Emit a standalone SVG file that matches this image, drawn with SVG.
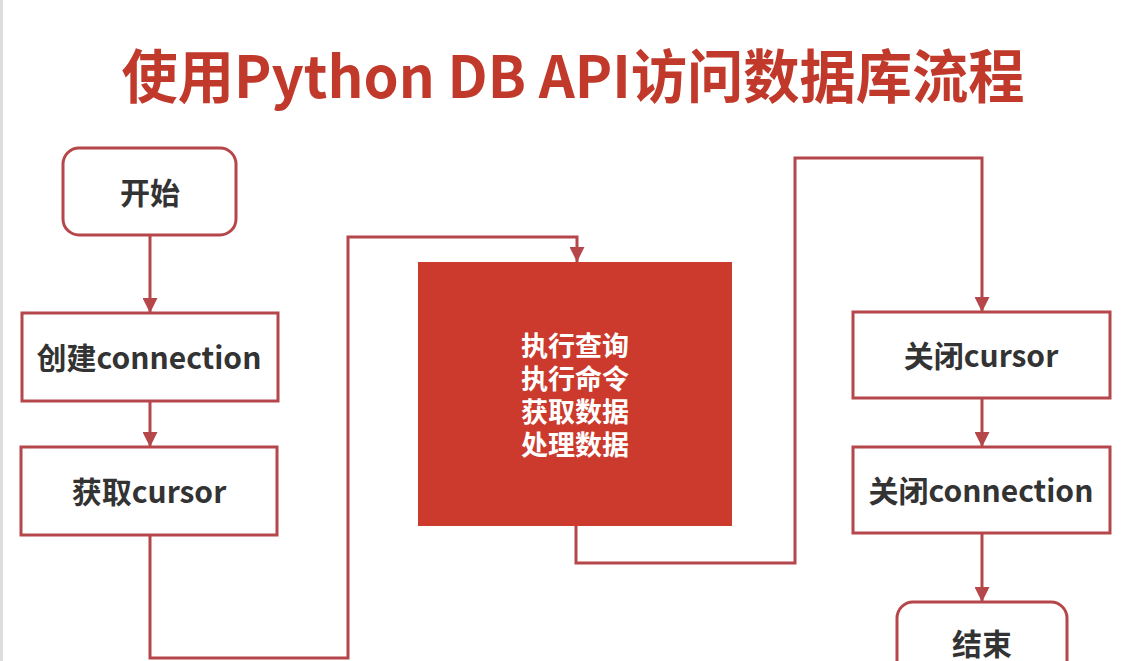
<svg xmlns="http://www.w3.org/2000/svg" width="1144" height="661" viewBox="0 0 1144 661">
  <defs>
    <marker id="arr" viewBox="0 0 10 10" refX="10" refY="5" markerWidth="5" markerHeight="5" orient="auto" markerUnits="strokeWidth">
      <path d="M0,0 L10,5 L0,10 z" fill="#b5474a"/>
    </marker>
    <style>
      .box { fill: #ffffff; stroke: #b5474a; stroke-width: 3; }
      .lbl { font-family: "Noto Sans CJK SC", "Open Sans", sans-serif; font-weight: bold; font-size: 30px; fill: #333333; text-anchor: middle; dominant-baseline: central; }
      .wl { font-family: "Noto Sans CJK SC", sans-serif; font-weight: bold; font-size: 27px; fill: #ffffff; text-anchor: middle; }
      .conn { fill: none; stroke: #b5474a; stroke-width: 3; marker-end: url(#arr); }
    </style>
  </defs>
  <rect x="0" y="0" width="1144" height="661" fill="#ffffff"/>
  <line x1="1.5" y1="0" x2="1.5" y2="661" stroke="#dddddd" stroke-width="3"/>

  <text x="573" y="73" font-family="'Noto Sans CJK SC', sans-serif" font-weight="bold" font-size="58" fill="#c0392b" text-anchor="middle" dominant-baseline="central" textLength="903" lengthAdjust="spacingAndGlyphs">使用Python DB API访问数据库流程</text>

  <g id="connectors">
    <path class="conn" d="M150,235 L150,313"/>
    <path class="conn" d="M150,401 L150,447"/>
    <path class="conn" d="M150,535 L150,658 L348,658 L348,237 L577,237 L577,262"/>
    <path class="conn" d="M576,526 L576,563 L795,563 L795,158 L982,158 L982,312"/>
    <path class="conn" d="M982,398 L982,447"/>
    <path class="conn" d="M982,533 L982,602"/>
  </g>

  <g id="start">
    <rect class="box" x="63" y="148" width="173" height="87" rx="16"/>
    <text class="lbl" x="150" y="191">开始</text>
  </g>
  <g id="create-connection">
    <rect class="box" x="22" y="313" width="256" height="88"/>
    <text class="lbl" x="149" y="356">创建connection</text>
  </g>
  <g id="get-cursor">
    <rect class="box" x="21" y="447" width="256" height="88"/>
    <text class="lbl" x="149" y="490">获取cursor</text>
  </g>
  <g id="execute">
    <rect x="418" y="262" width="314" height="264" fill="#cb3a2c"/>
    <text class="wl" x="575" y="356">执行查询<tspan x="575" dy="33">执行命令</tspan><tspan x="575" dy="33">获取数据</tspan><tspan x="575" dy="33">处理数据</tspan></text>
  </g>
  <g id="close-cursor">
    <rect class="box" x="853" y="312" width="257" height="86"/>
    <text class="lbl" x="981" y="354">关闭cursor</text>
  </g>
  <g id="close-connection">
    <rect class="box" x="853" y="447" width="257" height="86"/>
    <text class="lbl" x="981" y="489">关闭connection</text>
  </g>
  <g id="end">
    <rect class="box" x="897" y="602" width="170" height="90" rx="16"/>
    <text class="lbl" x="982" y="642">结束</text>
  </g>
</svg>
